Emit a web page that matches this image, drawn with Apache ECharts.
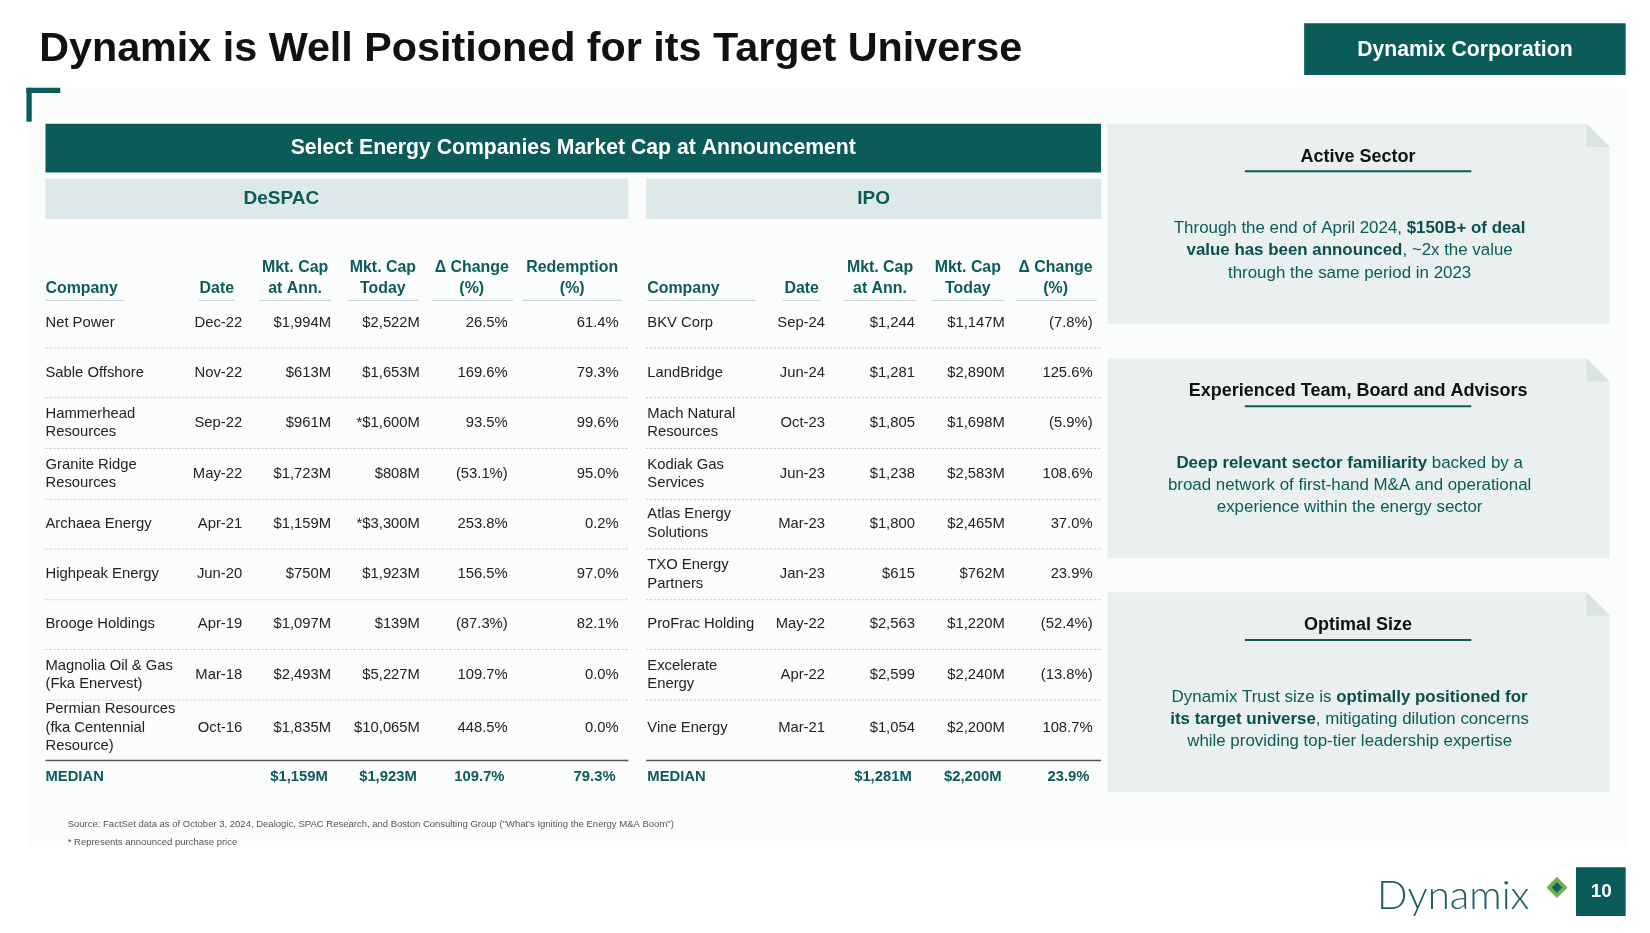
<!DOCTYPE html>
<html>
<head>
<meta charset="utf-8">
<script src="https://cdn.jsdelivr.net/npm/echarts@6/dist/echarts.min.js"></script>
<style>html,body{margin:0;padding:0;background:#fff}#main{width:1650px;height:933px}</style>
</head>
<body>
<div id="main"></div>
<script>
// DeSPAC table
var despacCompany = ['Net Power', 'Sable Offshore', 'Hammerhead\nResources', 'Granite Ridge\nResources', 'Archaea Energy', 'Highpeak Energy', 'Brooge Holdings', 'Magnolia Oil & Gas\n(Fka Enervest)', 'Permian Resources\n(fka Centennial\nResource)']
var despacDate = ['Dec-22', 'Nov-22', 'Sep-22', 'May-22', 'Apr-21', 'Jun-20', 'Apr-19', 'Mar-18', 'Oct-16']
var despacCapAnn = ['$1,994M', '$613M', '$961M', '$1,723M', '$1,159M', '$750M', '$1,097M', '$2,493M', '$1,835M']
var despacCapToday = ['$2,522M', '$1,653M', '*$1,600M', '$808M', '*$3,300M', '$1,923M', '$139M', '$5,227M', '$10,065M']
var despacChange = ['26.5%', '169.6%', '93.5%', '(53.1%)', '253.8%', '156.5%', '(87.3%)', '109.7%', '448.5%']
var despacRedemption = ['61.4%', '79.3%', '99.6%', '95.0%', '0.2%', '97.0%', '82.1%', '0.0%', '0.0%']
var despacMedian = ['MEDIAN', '', '$1,159M', '$1,923M', '109.7%', '79.3%']

// IPO table
var ipoCompany = ['BKV Corp', 'LandBridge', 'Mach Natural\nResources', 'Kodiak Gas\nServices', 'Atlas Energy\nSolutions', 'TXO Energy\nPartners', 'ProFrac Holding', 'Excelerate\nEnergy', 'Vine Energy']
var ipoDate = ['Sep-24', 'Jun-24', 'Oct-23', 'Jun-23', 'Mar-23', 'Jan-23', 'May-22', 'Apr-22', 'Mar-21']
var ipoCapAnn = ['$1,244', '$1,281', '$1,805', '$1,238', '$1,800', '$615', '$2,563', '$2,599', '$1,054']
var ipoCapToday = ['$1,147M', '$2,890M', '$1,698M', '$2,583M', '$2,465M', '$762M', '$1,220M', '$2,240M', '$2,200M']
var ipoChange = ['(7.8%)', '125.6%', '(5.9%)', '108.6%', '37.0%', '23.9%', '(52.4%)', '(13.8%)', '108.7%']
var ipoMedian = ['MEDIAN', '', '$1,281M', '$2,200M', '23.9%']

var s = 1650 / 1560
var TEAL = '#0b5b59'
var FONT = '"Liberation Sans", Arial, sans-serif'
var els = []

function rect (x, y, w, h, fill) {
  els.push({ type: 'rect', shape: { x: x * s, y: y * s, width: w * s, height: h * s }, style: { fill: fill } })
}
function line (x1, y1, x2, y2, color, width, dash) {
  els.push({ type: 'line', shape: { x1: x1 * s, y1: y1 * s, x2: x2 * s, y2: y2 * s }, style: { stroke: color, lineWidth: width, lineDash: dash || null } })
}
function text (x, y, str, opt) {
  opt = opt || {}
  els.push({
    type: 'text', x: x * s, y: y * s, z: 5,
    style: {
      text: str, fill: opt.color || '#222', align: opt.align || 'left', verticalAlign: 'middle',
      font: (opt.weight || (opt.bold ? 'bold' : 'normal')) + ' ' + ((opt.size || 14) * s).toFixed(1) + 'px ' + (opt.family || FONT),
      lineHeight: (opt.lh || 17.5) * s, rich: opt.rich
    }
  })
}

// dotted background area
els.push({ type: 'rect', shape: { x: 25 * s, y: 83 * s, width: 1515 * s, height: 717 * s }, style: { fill: '#fbfcfc' }, z: 0 })
// title and corporate box
text(37, 47, 'Dynamix is Well Positioned for its Target Universe', { bold: true, size: 39, color: '#111' })
rect(1233, 22, 304, 49, TEAL)
text(1385, 47, 'Dynamix Corporation', { bold: true, size: 20, color: '#fff', align: 'center' })
rect(25, 83, 32, 5, TEAL)
rect(25, 83, 5, 32, TEAL)

// header bars
rect(43, 117, 998, 46, TEAL)
text(542, 140, 'Select Energy Companies Market Cap at Announcement', { bold: true, size: 20, color: '#fff', align: 'center' })
rect(43, 169, 551, 38, '#dde9e8')
rect(611, 169, 430, 38, '#dde9e8')
text(266, 188, 'DeSPAC', { bold: true, size: 18, color: TEAL, align: 'center' })
text(826, 188, 'IPO', { bold: true, size: 18, color: TEAL, align: 'center' })

// column headers
function header (x, str, align) {
  var lines = str.split('\n')
  lines.forEach(function (l, i) {
    var y = lines.length === 2 ? (i === 0 ? 253 : 273) : 273
    text(x, y, l, { bold: true, size: 15, color: TEAL, align: align })
  })
}
var hd = [[43, 'Company', 'left'], [205, 'Date', 'center'], [279, 'Mkt. Cap\nat Ann.', 'center'], [362, 'Mkt. Cap\nToday', 'center'], [446, 'Δ Change\n(%)', 'center'], [541, 'Redemption\n(%)', 'center'],
  [612, 'Company', 'left'], [758, 'Date', 'center'], [832, 'Mkt. Cap\nat Ann.', 'center'], [915, 'Mkt. Cap\nToday', 'center'], [998, 'Δ Change\n(%)', 'center']]
hd.forEach(function (h) { header(h[0], h[1], h[2]) })
// header underlines
var ul = [[43, 117], [188, 222], [245, 313], [329, 396], [408, 485], [494, 588], [612, 714], [740, 776], [798, 866], [881, 949], [960, 1037]]
ul.forEach(function (u) { line(u[0], 284, u[1], 284, '#c9d8d7', 1.2) })

var rowY = [305, 353, 400, 448, 495, 543, 590, 638, 688]
var sepY = [329, 376, 424, 472, 519, 567, 614, 662]
sepY.forEach(function (y) {
  line(43, y, 594, y, '#c8c8c8', 1, [2, 2])
  line(611, y, 1041, y, '#c8c8c8', 1, [2, 2])
})
line(43, 719, 594, 719, '#555', 1.5)
line(611, 719, 1041, 719, '#555', 1.5)

var dx = [229, 313, 397, 480, 585]
var dcols = [despacDate, despacCapAnn, despacCapToday, despacChange, despacRedemption]
var ix = [780, 865, 950, 1033]
var icols = [ipoDate, ipoCapAnn, ipoCapToday, ipoChange]
rowY.forEach(function (y, i) {
  text(43, y, despacCompany[i])
  dcols.forEach(function (c, j) { text(dx[j], y, c[i], { align: 'right' }) })
  text(612, y, ipoCompany[i])
  icols.forEach(function (c, j) { text(ix[j], y, c[i], { align: 'right' }) })
})
text(43, 735, despacMedian[0], { bold: true, color: TEAL })
for (var j = 2; j < despacMedian.length; j++) text(dx[j - 1] - 3, 735, despacMedian[j], { bold: true, color: TEAL, align: 'right' })
text(612, 735, ipoMedian[0], { bold: true, color: TEAL })
for (j = 2; j < ipoMedian.length; j++) text(ix[j - 1] - 3, 735, ipoMedian[j], { bold: true, color: TEAL, align: 'right' })

// right panels
var panelTitles = ['Active Sector', 'Experienced Team, Board and Advisors', 'Optimal Size']
var panelBodies = [
  '{n|Through the end of April 2024, }{b|$150B+ of deal}\n{b|value has been announced}{n|, ~2x the value}\n{n|through the same period in 2023}',
  '{b|Deep relevant sector familiarity}{n| backed by a}\n{n|broad network of first-hand M&A and operational}\n{n|experience within the energy sector}',
  '{n|Dynamix Trust size is }{b|optimally positioned for}\n{b|its target universe}{n|, mitigating dilution concerns}\n{n|while providing top-tier leadership expertise}'
]
var panelY = [117, 339, 560]
panelY.forEach(function (y, i) {
  els.push({ type: 'polygon', shape: { points: [[1047 * s, y * s], [1500 * s, y * s], [1522 * s, (y + 22) * s], [1522 * s, (y + 189) * s], [1047 * s, (y + 189) * s]] }, style: { fill: '#e9f0ef' } })
  els.push({ type: 'polygon', shape: { points: [[1500 * s, y * s], [1522 * s, (y + 22) * s], [1500 * s, (y + 22) * s]] }, style: { fill: '#d9e4e3' } })
  text(1284, y + 31, panelTitles[i], { bold: true, size: 17, color: '#111', align: 'center' })
  line(1177, y + 45, 1391, y + 45, TEAL, 2)
  text(1276, y + 120, panelBodies[i], {
    align: 'center', size: 16, color: TEAL, lh: 21,
    rich: {
      n: { font: (16 * s).toFixed(1) + 'px ' + FONT, fill: TEAL, lineHeight: 21 * s },
      b: { font: 'bold ' + (16 * s).toFixed(1) + 'px ' + FONT, fill: '#0a4f4d', lineHeight: 21 * s }
    }
  })
})

// footnotes
text(64, 779, 'Source: FactSet data as of October 3, 2024, Dealogic, SPAC Research, and Boston Consulting Group ("What\'s Igniting the Energy M&A Boom")', { size: 9, color: '#555' })
text(64, 796, '* Represents announced purchase price', { size: 9, color: '#555' })

// logo + page number
text(1302, 847, 'Dynamix', { size: 38, color: '#1d5f60', weight: '300', family: 'Lato, "Open Sans", sans-serif' })
els.push({ type: 'polygon', shape: { points: [[1472 * s, 829 * s], [1482 * s, 839 * s], [1472 * s, 849 * s], [1462 * s, 839 * s]] }, style: { fill: '#6fb24a' } })
els.push({ type: 'polygon', shape: { points: [[1472 * s, 834 * s], [1477 * s, 839 * s], [1472 * s, 844 * s], [1467 * s, 839 * s]] }, style: { fill: '#1d5f60' } })
rect(1490, 820, 47, 46, TEAL)
text(1514, 843, '10', { bold: true, size: 18, color: '#fff', align: 'center' })

var myChart = echarts.init(document.getElementById('main'))
myChart.setOption({ animation: false, graphic: { elements: els } })
</script>
</body>
</html>
